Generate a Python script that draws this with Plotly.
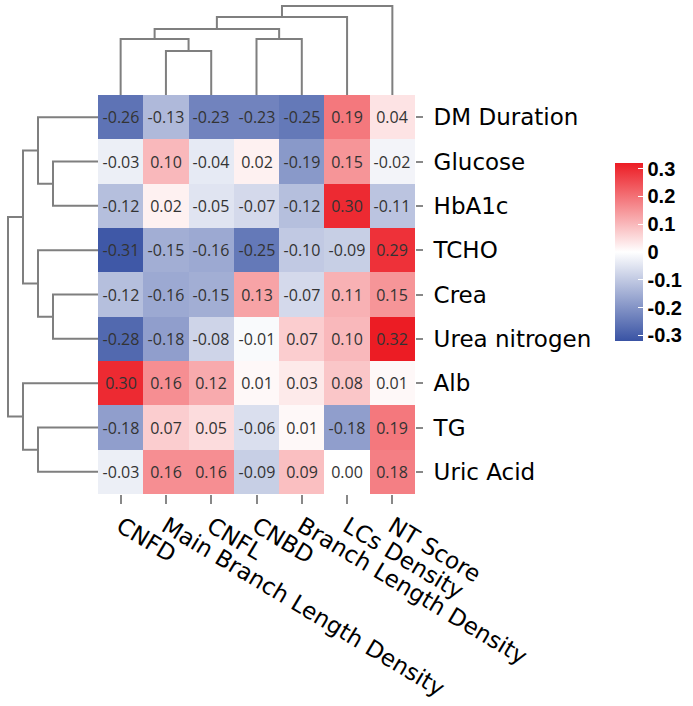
import plotly.graph_objects as go

rows = ["DM Duration", "Glucose", "HbA1c", "TCHO", "Crea", "Urea nitrogen", "Alb", "TG", "Uric Acid"]
cols = ["CNFD", "Main Branch Length Density", "CNFL", "CNBD", "Branch Length Density", "LCs Density", "NT Score"]

dm_duration = [-0.26, -0.13, -0.23, -0.23, -0.25, 0.19, 0.04]
glucose = [-0.03, 0.10, -0.04, 0.02, -0.19, 0.15, -0.02]
hba1c = [-0.12, 0.02, -0.05, -0.07, -0.12, 0.30, -0.11]
tcho = [-0.31, -0.15, -0.16, -0.25, -0.10, -0.09, 0.29]
crea = [-0.12, -0.16, -0.15, 0.13, -0.07, 0.11, 0.15]
urea_nitrogen = [-0.28, -0.18, -0.08, -0.01, 0.07, 0.10, 0.32]
alb = [0.30, 0.16, 0.12, 0.01, 0.03, 0.08, 0.01]
tg = [-0.18, 0.07, 0.05, -0.06, 0.01, -0.18, 0.19]
uric_acid = [-0.03, 0.16, 0.16, -0.09, 0.09, 0.00, 0.18]

# dendrogram linkages: (child_a, child_b, merge height); new ids follow leaves
col_links = [(1, 2, 44), (0, 7, 56), (3, 4, 56), (8, 9, 66), (10, 5, 78), (11, 6, 89)]
row_links = [(1, 2, 45), (0, 9, 60), (4, 5, 45), (3, 11, 60), (10, 12, 75),
             (7, 8, 60), (6, 14, 75), (13, 15, 90)]

cbar_vals = [-0.3, -0.2, -0.1, 0, 0.1, 0.2, 0.3]
cbar_text = ["-0.3", "-0.2", "-0.1", "0", "0.1", "0.2", "0.3"]

z = [dm_duration, glucose, hba1c, tcho, crea, urea_nitrogen, alb, tg, uric_acid]
txt = [[f"{v:.2f}" for v in r] for r in z]

W, H = 693, 706
hx0, hx1 = 98 / W, 415 / W
hy0, hy1 = 1 - 494 / H, 1 - 95 / H


def dendro_segments(n_leaves, links):
    pos = {i: float(i) for i in range(n_leaves)}
    hgt = {i: 0.0 for i in range(n_leaves)}
    segs = []
    nid = n_leaves
    for a, b, h in links:
        segs.append(([pos[a], pos[a], pos[b], pos[b]], [hgt[a], h, h, hgt[b]]))
        pos[nid] = (pos[a] + pos[b]) / 2
        hgt[nid] = h
        nid += 1
    return segs


fig = go.Figure()

fig.add_trace(go.Heatmap(
    z=z, x=list(range(len(cols))), y=list(range(len(rows))),
    text=txt, texttemplate="%{text}",
    textfont=dict(family="Open Sans", size=16, color="#333333"),
    colorscale=[[0, "#3953a4"], [0.5, "#ffffff"], [1, "#ec1c24"]],
    zmin=-0.32, zmax=0.32,
    xaxis="x", yaxis="y",
    colorbar=dict(
        x=615 / W, xanchor="left", y=1 - 252 / H, yanchor="middle",
        xpad=0, ypad=0,
        thickness=28, lenmode="pixels", len=178, outlinewidth=0,
        tickvals=cbar_vals, ticktext=cbar_text, ticks="inside",
        tickcolor="white", ticklen=5,
        tickfont=dict(family="Liberation Sans", size=20, color="black", weight="bold"),
    ),
    hoverinfo="skip",
))

line = dict(color="#7f7f7f", width=2)
for xs, ys in dendro_segments(len(cols), col_links):
    fig.add_trace(go.Scatter(x=xs, y=ys, mode="lines", line=line,
                             xaxis="x2", yaxis="y2", showlegend=False, hoverinfo="skip"))
for ys, xs in dendro_segments(len(rows), row_links):
    fig.add_trace(go.Scatter(x=xs, y=ys, mode="lines", line=line,
                             xaxis="x3", yaxis="y3", showlegend=False, hoverinfo="skip"))

fig.update_layout(
    width=W, height=H, margin=dict(l=0, r=0, t=0, b=0, autoexpand=False),
    paper_bgcolor="white", plot_bgcolor="white", showlegend=False,
    xaxis=dict(domain=[hx0, hx1], range=[-0.5, 6.5], tickvals=list(range(len(cols))),
               ticktext=cols, tickangle=31, ticks="outside", ticklen=9, tickcolor="#888888",
               tickwidth=1.5, showgrid=False, zeroline=False, showline=False, automargin=False,
               tickfont=dict(family="DejaVu Sans", size=23, color="black"), anchor="y"),
    yaxis=dict(domain=[hy0, hy1], range=[8.5, -0.5], tickvals=list(range(len(rows))),
               ticktext=rows, side="right", ticks="outside", ticklen=7, tickcolor="#888888",
               tickwidth=1.5, showgrid=False, zeroline=False, showline=False, automargin=False,
               ticklabelstandoff=6,
               tickfont=dict(family="DejaVu Sans", size=23, color="black"), anchor="x"),
    xaxis2=dict(domain=[hx0, hx1], range=[-0.5, 6.5], visible=False, anchor="y2"),
    yaxis2=dict(domain=[hy1, 1], range=[0, 95], visible=False, anchor="x2"),
    xaxis3=dict(domain=[0, hx0], range=[98, 0], visible=False, anchor="y3"),
    yaxis3=dict(domain=[hy0, hy1], range=[8.5, -0.5], visible=False, anchor="x3"),
)

fig.write_html("out.html", config={"displayModeBar": False})
with open("out.html", encoding="utf-8") as f:
    html = f.read()
html = html.replace("<body>", '<body style="margin:0;padding:0">', 1)
with open("out.html", "w", encoding="utf-8") as f:
    f.write(html)
